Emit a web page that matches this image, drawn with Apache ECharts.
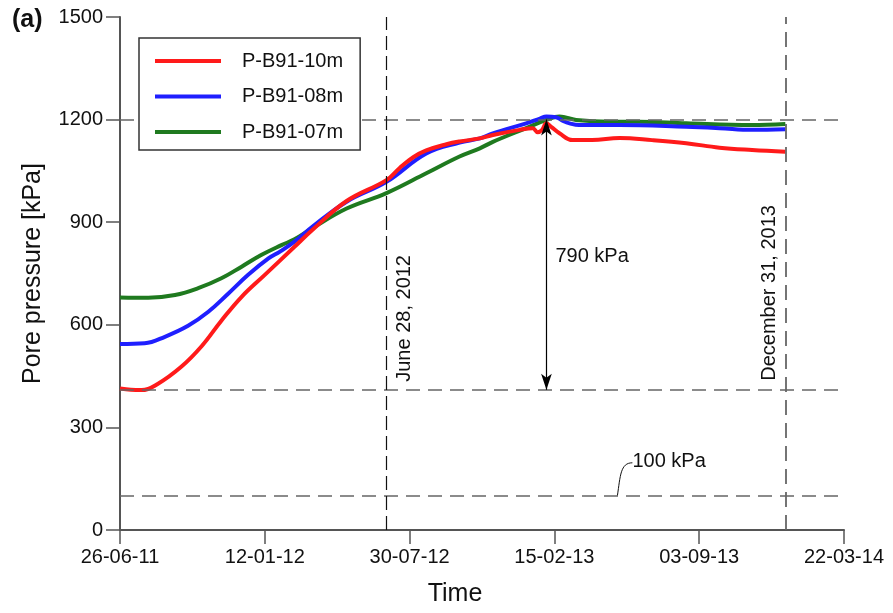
<!DOCTYPE html>
<html>
<head>
<meta charset="utf-8">
<script src="https://cdn.jsdelivr.net/npm/echarts@6/dist/echarts.min.js"></script>
<style>
  html, body { margin: 0; padding: 0; background: #fff; }
  #chart { width: 893px; height: 613px; }
</style>
</head>
<body>
<div id="chart"></div>
<script>
// Piezometer readings, borehole P-B91 (x = days since 26-06-2011, y = kPa)
const FONT = "'Liberation Sans', Arial, sans-serif";

const xTickLabels = ['26-06-11', '12-01-12', '30-07-12', '15-02-13', '03-09-13', '22-03-14'];
const xTickStep = 200;          // days between date ticks
const yTicks = [0, 300, 600, 900, 1200, 1500];

const seriesNames = ['P-B91-10m', 'P-B91-08m', 'P-B91-07m'];

const daysRed = [0, 15, 30, 52, 85, 113, 140, 168, 200, 241, 266, 313, 368, 386, 405, 423, 451, 469, 497, 515, 552, 570, 577, 583, 589, 596, 607, 625, 652, 690, 735, 782, 828, 873, 919];
const kpaRed  = [414, 410, 409, 427, 478, 538, 612, 682, 746, 828, 878, 962, 1023, 1058, 1090, 1110, 1128, 1136, 1145, 1155, 1170, 1175, 1163, 1170, 1189, 1178, 1160, 1140, 1140, 1146, 1140, 1131, 1118, 1111, 1106];

const daysBlue = [0, 34, 62, 94, 122, 149, 177, 205, 221, 241, 266, 313, 368, 423, 469, 497, 515, 561, 580, 589, 602, 612, 621, 634, 690, 782, 828, 873, 919];
const kpaBlue  = [544, 546, 565, 597, 638, 690, 746, 794, 814, 843, 887, 960, 1018, 1101, 1133, 1145, 1160, 1189, 1203, 1209, 1207, 1196, 1189, 1184, 1184, 1179, 1175, 1170, 1172];

const daysGreen = [0, 39, 76, 108, 140, 168, 195, 223, 241, 266, 313, 368, 423, 469, 497, 515, 561, 589, 607, 630, 676, 717, 782, 873, 919];
const kpaGreen  = [680, 679, 687, 707, 736, 770, 804, 833, 850, 883, 940, 985, 1043, 1092, 1116, 1135, 1175, 1199, 1209, 1199, 1194, 1194, 1189, 1184, 1187];

// Reference levels and dates
const peakLevel = 1200;          // kPa
const riseLabel = 790;           // kPa rise shown by the arrow
const startLevel = peakLevel - riseLabel;   // 410 kPa
const minLevel = 100;            // kPa
const juneDay = 368;             // June 28, 2012
const decDay = 919;              // December 31, 2013
const arrowDay = 589;

const zip = (xs, ys) => xs.map((x, i) => [x, ys[i]]);

const chart = echarts.init(document.getElementById('chart'), null, { renderer: 'canvas' });

const dashGrey = { type: [14, 8], color: '#666', width: 1.6 };

const option = {
  animation: false,
  backgroundColor: '#fff',
  textStyle: { fontFamily: FONT },
  grid: { left: 120, right: 49, top: 17, bottom: 83, containLabel: false },
  legend: {
    orient: 'vertical',
    left: 139, top: 38,
    padding: [11, 17, 6, 16],
    itemGap: 11.5,
    icon: 'rect',
    itemWidth: 66, itemHeight: 4,
    backgroundColor: '#fff',
    borderColor: '#333', borderWidth: 1.5,
    data: seriesNames,
    textStyle: { fontSize: 20, lineHeight: 24, color: '#111', fontFamily: FONT, padding: [0, 0, 0, 16] },
    z: 10
  },
  xAxis: {
    type: 'value', min: 0, max: xTickStep * (xTickLabels.length - 1), interval: xTickStep,
    axisLine: { onZero: false, lineStyle: { color: '#555', width: 2 } },
    axisTick: { length: 14, lineStyle: { color: '#555', width: 1.5 } },
    axisLabel: { margin: 17, fontSize: 20, color: '#111', fontFamily: FONT,
      formatter: v => xTickLabels[Math.round(v / xTickStep)] },
    splitLine: { show: false },
    name: 'Time', nameLocation: 'middle', nameGap: 52,
    nameTextStyle: { fontSize: 25, color: '#111', fontFamily: FONT, padding: [0, 54, 0, 0] }
  },
  yAxis: {
    type: 'value', min: yTicks[0], max: yTicks[yTicks.length - 1], interval: yTicks[1] - yTicks[0],
    axisLine: { show: true, onZero: false, lineStyle: { color: '#555', width: 2 } },
    axisTick: { show: true, length: 14, lineStyle: { color: '#555', width: 1.5 } },
    axisLabel: { margin: 17, fontSize: 20, color: '#111', fontFamily: FONT, formatter: v => String(v) },
    splitLine: { show: false },
    name: 'Pore pressure [kPa]', nameLocation: 'middle', nameGap: 74,
    nameTextStyle: { fontSize: 25, color: '#111', fontFamily: FONT }
  },
  series: [
    {
      name: seriesNames[0], type: 'line', data: zip(daysRed, kpaRed),
      smooth: 0.4, showSymbol: false, symbol: 'none', z: 4,
      lineStyle: { color: '#ff1a1a', width: 4 }, itemStyle: { color: '#ff1a1a' }
    },
    {
      name: seriesNames[1], type: 'line', data: zip(daysBlue, kpaBlue),
      smooth: 0.4, showSymbol: false, symbol: 'none', z: 3,
      lineStyle: { color: '#1f1fff', width: 4 }, itemStyle: { color: '#1f1fff' }
    },
    {
      name: seriesNames[2], type: 'line', data: zip(daysGreen, kpaGreen),
      smooth: 0.4, showSymbol: false, symbol: 'none', z: 2,
      lineStyle: { color: '#1f7a1f', width: 4 }, itemStyle: { color: '#1f7a1f' }
    },
    {
      name: 'reference', type: 'line', data: [], z: 1,
      markLine: {
        silent: true, animation: false,
        symbol: ['none', 'none'],
        label: { show: false },
        data: [
          { yAxis: peakLevel, lineStyle: dashGrey },
          { yAxis: startLevel, lineStyle: dashGrey },
          { yAxis: minLevel, lineStyle: dashGrey },
          { xAxis: juneDay, lineStyle: { type: [14, 6], color: '#111', width: 1.2 } },
          { xAxis: decDay, lineStyle: { type: [15, 8], color: '#666', width: 1.8 } },
          [
            { coord: [arrowDay, peakLevel], symbol: 'arrow', symbolSize: [8, 16] },
            { coord: [arrowDay, startLevel], symbol: 'arrow', symbolSize: [8, 16],
              lineStyle: { type: 'solid', color: '#000', width: 1.2 } }
          ]
        ]
      }
    }
  ]
};

chart.setOption(option);

// Annotations placed from data coordinates through the grid's scales
const px = (d, v) => chart.convertToPixel({ gridIndex: 0 }, [d, v]);
const pJune = px(juneDay, startLevel);
const pDec = px(decDay, startLevel);
const pArrow = px(arrowDay, 801);
const pMin = px(687, minLevel);
const textStyle = (t) => ({ text: t, font: '20px ' + FONT, fill: '#111' });

chart.setOption({
  graphic: [
    { type: 'text', left: 12, top: 8, style: { text: '(a)', font: 'bold 25px ' + FONT, fill: '#111' } },
    { type: 'text', x: pJune[0] + 18, y: pJune[1] - 8, rotation: Math.PI / 2,
      style: Object.assign(textStyle('June 28, 2012'), { align: 'left', verticalAlign: 'middle' }) },
    { type: 'text', x: pDec[0] - 16, y: pDec[1] - 9, rotation: Math.PI / 2,
      style: Object.assign(textStyle('December 31, 2013'), { align: 'left', verticalAlign: 'middle' }) },
    { type: 'text', x: pArrow[0] + 9, y: pArrow[1],
      style: Object.assign(textStyle(riseLabel + ' kPa'), { align: 'left', verticalAlign: 'middle' }) },
    { type: 'bezierCurve',
      shape: { x1: pMin[0], y1: pMin[1], cpx1: pMin[0] + 3, cpy1: pMin[1] - 20,
               cpx2: pMin[0] + 3, cpy2: pMin[1] - 33, x2: pMin[0] + 15, y2: pMin[1] - 33 },
      style: { stroke: '#111', lineWidth: 1, fill: null } },
    { type: 'text', x: pMin[0] + 15, y: pMin[1] - 34,
      style: Object.assign(textStyle(minLevel + ' kPa'), { align: 'left', verticalAlign: 'middle' }) }
  ]
});
</script>
</body>
</html>
